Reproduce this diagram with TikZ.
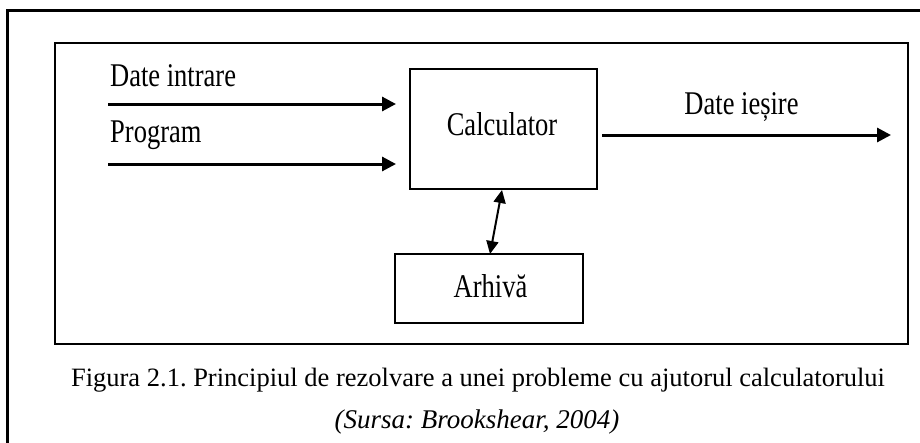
\documentclass[tikz,border=0pt]{standalone}
\usepackage{fontspec}
\setmainfont{Liberation Serif}
\usetikzlibrary{arrows.meta}
\frenchspacing
\newcommand{\tallt}[1]{\scalebox{1}[1.25]{#1}}
\begin{document}
\begin{tikzpicture}[x=1pt,y=-1pt,
  box/.style={draw, line width=1.5pt, minimum width=#1, inner sep=0pt},
  lbl/.style={inner sep=0pt, font=\fontsize{26.5}{30}\selectfont\frenchspacing},
  flow/.style={line width=3pt, -{Triangle[length=14pt,width=14pt]}},
  both/.style={line width=2pt, {Triangle[length=13pt,width=12pt]}-{Triangle[length=13pt,width=12pt]}}]
\useasboundingbox (0,0) rectangle (920,442);
\begin{scope}
\clip (0,0) rectangle (920,442);
\draw[line width=3pt] (7,460) -- (7,10) -- (940,10);
\end{scope}
\draw[line width=2pt] (55,43) rectangle (908,344);
\node[box=187pt, minimum height=120pt] (calc) at (503.5,129) {};
\node[box=188pt, minimum height=69pt] (arh) at (489,288.5) {};
\node[lbl, anchor=base] (calct) at (502,135) {\tallt{Calculator}};
\node[lbl, anchor=base] (arht) at (490.5,297) {\tallt{Arhivă}};
\node[lbl, anchor=base west] (din) at (110,86.7) {\tallt{Date intrare}};
\node[lbl, anchor=base west] (prg) at (110,142) {\tallt{Program}};
\node[lbl, anchor=base] (dout) at (741.5,114) {\tallt{Date ieșire}};
\coordinate (i1s) at (108,104);
\coordinate (i1e) at (396,104);
\coordinate (i2s) at (108,164);
\coordinate (i2e) at (396,164);
\coordinate (os) at (602,135);
\coordinate (oe) at (891,135);
\coordinate (a1) at (502,190);
\coordinate (a2) at (490,254);
\draw[flow] (i1s) -- (i1e);
\draw[flow] (i2s) -- (i2e);
\draw[flow] (os) -- (oe);
\draw[both] (a1) -- (a2);
\node[lbl, anchor=base] (cap) at (478,386) {Figura 2.1. Principiul de rezolvare a unei probleme cu ajutorul calculatorului};
\node[lbl, anchor=base, font=\fontsize{27}{30}\selectfont\itshape\frenchspacing] (src) at (477,428) {(Sursa: Brookshear, 2004)};
\end{tikzpicture}
\end{document}
